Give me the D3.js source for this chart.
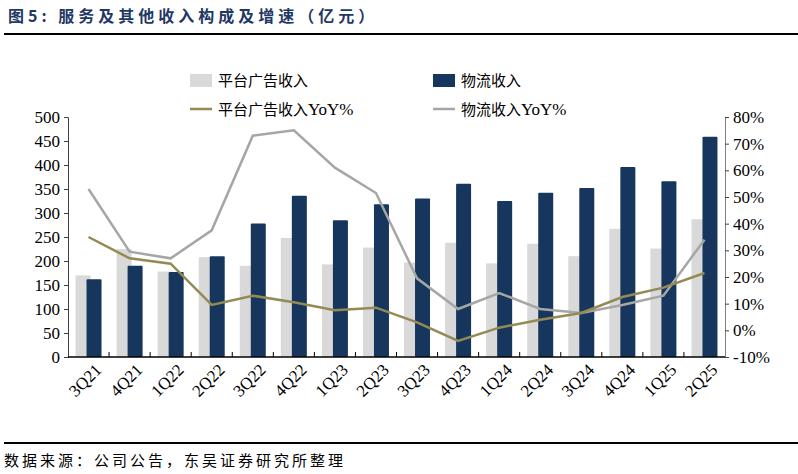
<!DOCTYPE html><html><head><meta charset="utf-8"><script src="https://cdn.jsdelivr.net/npm/d3@7"></script>
<style>body{margin:0;background:#fff}svg{display:block}</style></head><body><svg id="c" width="798" height="474"></svg>
<script>
const categories=["3Q21","4Q21","1Q22","2Q22","3Q22","4Q22","1Q23","2Q23","3Q23","4Q23","1Q24","2Q24","3Q24","4Q24","1Q25","2Q25"];
const adRevenue=[170,225,178,208,190,248,193,228,197,238,195,236,210,267,226,287];
const logRevenue=[162,190,177,210,278,336,285,318,330,361,325,342,352,396,366,459];
const adYoY=[35,27,25,9.5,13,10.5,7.5,8.5,3,-4,1,4,6.5,12.5,16,21.5];
const logYoY=[53,29.5,27,37.5,73,75,61,51.5,19.5,8,14,8,6.5,9.5,13,34];
const leftTicks=[0,50,100,150,200,250,300,350,400,450,500];
const rightTicks=[-10,0,10,20,30,40,50,60,70,80];
const svg=d3.select("#c");
const serif="'Liberation Serif','DejaVu Serif',serif", cjk="'Noto Sans CJK SC',sans-serif";
const L=68,R=725,T=117,B=357;
const x=d3.scaleBand().domain(categories).range([L,R]);
const y=d3.scaleLinear().domain([0,500]).range([B,T]);
const y2=d3.scaleLinear().domain([-10,80]).range([B,T]);
svg.append("text").attr("x",8).attr("y",22).attr("font-family",cjk).attr("font-weight","bold").attr("font-size",16).attr("letter-spacing",4).attr("fill","#1f3864").text("图5:  服务及其他收入构成及增速（亿元）");
svg.append("line").attr("x1",4).attr("x2",798).attr("y1",34).attr("y2",34).attr("stroke","#000").attr("stroke-width",2);
svg.append("line").attr("x1",4).attr("x2",798).attr("y1",443).attr("y2",443).attr("stroke","#000").attr("stroke-width",2);
svg.append("text").attr("x",4).attr("y",466).attr("font-family",cjk).attr("font-size",15).attr("letter-spacing",3).attr("fill","#000").text("数据来源：公司公告，东吴证券研究所整理");
const bw=15;
svg.selectAll(".a").data(adRevenue).join("rect").attr("x",(d,i)=>x(categories[i])+x.bandwidth()/2-5.5-bw/2).attr("width",bw).attr("y",d=>y(d)).attr("height",d=>B-y(d)).attr("fill","#d9d9d9");
svg.selectAll(".b").data(logRevenue).join("rect").attr("x",(d,i)=>x(categories[i])+x.bandwidth()/2+5.5-bw/2).attr("width",bw).attr("y",d=>y(d)).attr("height",d=>B-y(d)).attr("fill","#17365d").attr("rx",1);
const line=d3.line().x((d,i)=>x(categories[i])+x.bandwidth()/2).y(d=>y2(d));
svg.append("path").attr("d",line(logYoY)).attr("fill","none").attr("stroke","#a6a6a6").attr("stroke-width",2.5);
svg.append("path").attr("d",line(adYoY)).attr("fill","none").attr("stroke","#948a54").attr("stroke-width",2.5);
const ax=svg.append("g").attr("transform",`translate(${L},0)`).call(d3.axisLeft(y).tickValues(leftTicks).tickSize(4).tickPadding(4));
const ax2=svg.append("g").attr("transform",`translate(${R},0)`).call(d3.axisRight(y2).tickValues(rightTicks).tickFormat(d=>d+"%").tickSize(4).tickPadding(4));
const axb=svg.append("g").attr("transform",`translate(0,${B})`).call(d3.axisBottom(x).tickSize(0).tickPadding(0));
svg.append("g").attr("transform",`translate(0,${B})`).selectAll("line").data(d3.range(1,16)).join("line").attr("x1",i=>L+i*x.step()).attr("x2",i=>L+i*x.step()).attr("y1",0).attr("y2",-5).attr("stroke","#000");
[ax,ax2,axb].forEach(g=>{g.selectAll("text").attr("font-family",serif).attr("font-size",17).attr("fill","#000");g.selectAll("path,line").attr("stroke","#404040");});
ax2.select(".domain").attr("stroke","#808080");
axb.select(".domain").attr("d",`M${L},0H${R}`).attr("stroke","#000").attr("stroke-width",1.5);
axb.selectAll("text").attr("text-anchor","end").attr("dy",0).attr("y",0).attr("transform","translate(14,14) rotate(-45)");
const lg=svg.append("g").attr("font-family",cjk).attr("font-size",15);
lg.append("rect").attr("x",190).attr("y",74).attr("width",22).attr("height",13).attr("fill","#d9d9d9");
lg.append("text").attr("x",218).attr("y",86).text("平台广告收入");
lg.append("rect").attr("x",433).attr("y",74).attr("width",22).attr("height",13).attr("fill","#17365d");
lg.append("text").attr("x",461).attr("y",86).text("物流收入");
lg.append("line").attr("x1",190).attr("x2",212).attr("y1",109).attr("y2",109).attr("stroke","#948a54").attr("stroke-width",2.5);
const t1=lg.append("text").attr("x",218).attr("y",115);t1.append("tspan").text("平台广告收入");t1.append("tspan").attr("font-family",serif).attr("font-size",17).text("YoY%");
lg.append("line").attr("x1",433).attr("x2",455).attr("y1",109).attr("y2",109).attr("stroke","#a6a6a6").attr("stroke-width",2.5);
const t2=lg.append("text").attr("x",461).attr("y",115);t2.append("tspan").text("物流收入");t2.append("tspan").attr("font-family",serif).attr("font-size",17).text("YoY%");
</script></body></html>
